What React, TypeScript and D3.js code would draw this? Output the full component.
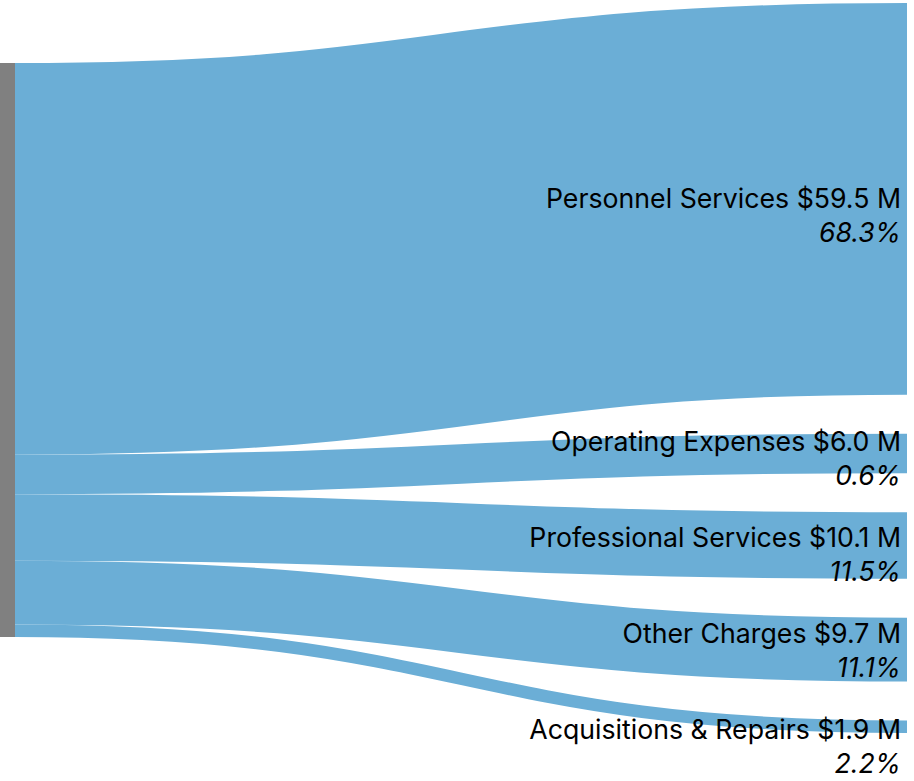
import React, { useEffect, useRef } from 'react'
import * as d3 from 'd3'

// budget categories (target nodes), in drawing order
const categories = [
  'Personnel Services',
  'Operating Expenses',
  'Professional Services',
  'Other Charges',
  'Acquisitions & Repairs',
]
// amounts in $ millions
const amounts = [59.5, 6.0, 10.1, 9.7, 1.9]
// share labels as printed on the chart
const shares = ['68.3%', '0.6%', '11.5%', '11.1%', '2.2%']

const App = () => {
  const svgRef = useRef<SVGSVGElement | null>(null)

  useEffect(() => {
    const width = 914
    const height = 781
    const nodeWidth = 15
    const nodePadding = 39
    const top = 3
    const bottom = 733
    const leftTop = 63
    const rightX = 907
    const labelGap = 96

    const svg = d3.select(svgRef.current).attr('width', width).attr('height', height)
    svg.selectAll('*').remove()

    const total = d3.sum(amounts)
    // vertical scale: value -> pixels
    const ky = d3
      .scaleLinear()
      .domain([0, total])
      .range([0, bottom - top - nodePadding * (amounts.length - 1)])

    let yR = top
    let yL = leftTop
    const links = amounts.map((v, i) => {
      const w = ky(v)
      const l = {
        name: categories[i],
        value: v,
        share: shares[i],
        width: w,
        y0: yL + w / 2,
        y1: yR + w / 2,
        ny0: yR,
        ny1: yR + w,
      }
      yR += w + nodePadding
      yL += w
      return l
    })

    const linkGen = d3
      .linkHorizontal<any, [number, number]>()
      .source((d: any) => [nodeWidth, d.y0])
      .target((d: any) => [rightX, d.y1])

    svg
      .append('g')
      .attr('fill', 'none')
      .selectAll('path')
      .data(links)
      .enter()
      .append('path')
      .attr('d', linkGen as any)
      .attr('stroke', '#6baed6')
      .attr('stroke-width', (d) => d.width)

    // source node
    svg
      .append('rect')
      .attr('x', 0)
      .attr('y', leftTop)
      .attr('width', nodeWidth)
      .attr('height', ky(total))
      .attr('fill', '#808080')

    // label positions: node centres, pushed apart so the two-line labels don't collide
    const pos = links.map((l) => (l.ny0 + l.ny1) / 2)
    pos[0] += 8
    for (let k = 0; k < 50; k++) {
      for (let i = 1; i < pos.length; i++) {
        const overlap = labelGap - (pos[i] - pos[i - 1])
        if (overlap > 0) {
          pos[i - 1] -= overlap / 2
          pos[i] += overlap / 2
        }
      }
    }

    const label = svg
      .append('g')
      .style('font-family', 'Inter, sans-serif')
      .style('font-size', '26.7px')
      .attr('text-anchor', 'end')
      .selectAll('text')
      .data(links)
      .enter()
      .append('text')
      .attr('x', rightX - 6)
      .attr('y', (d, i) => pos[i] + 1)
      .attr('fill', '#000')

    label.append('tspan').text((d) => `${d.name} $${d.value.toFixed(1)} M`)
    label
      .append('tspan')
      .attr('x', rightX - 6)
      .attr('dy', '1.27em')
      .style('font-style', 'italic')
      .text((d) => d.share)
  }, [])

  return (
    <div style={{ position: 'absolute', left: 0, top: 0 }}>
      <svg ref={svgRef} style={{ display: 'block' }}></svg>
    </div>
  )
}

export default App
